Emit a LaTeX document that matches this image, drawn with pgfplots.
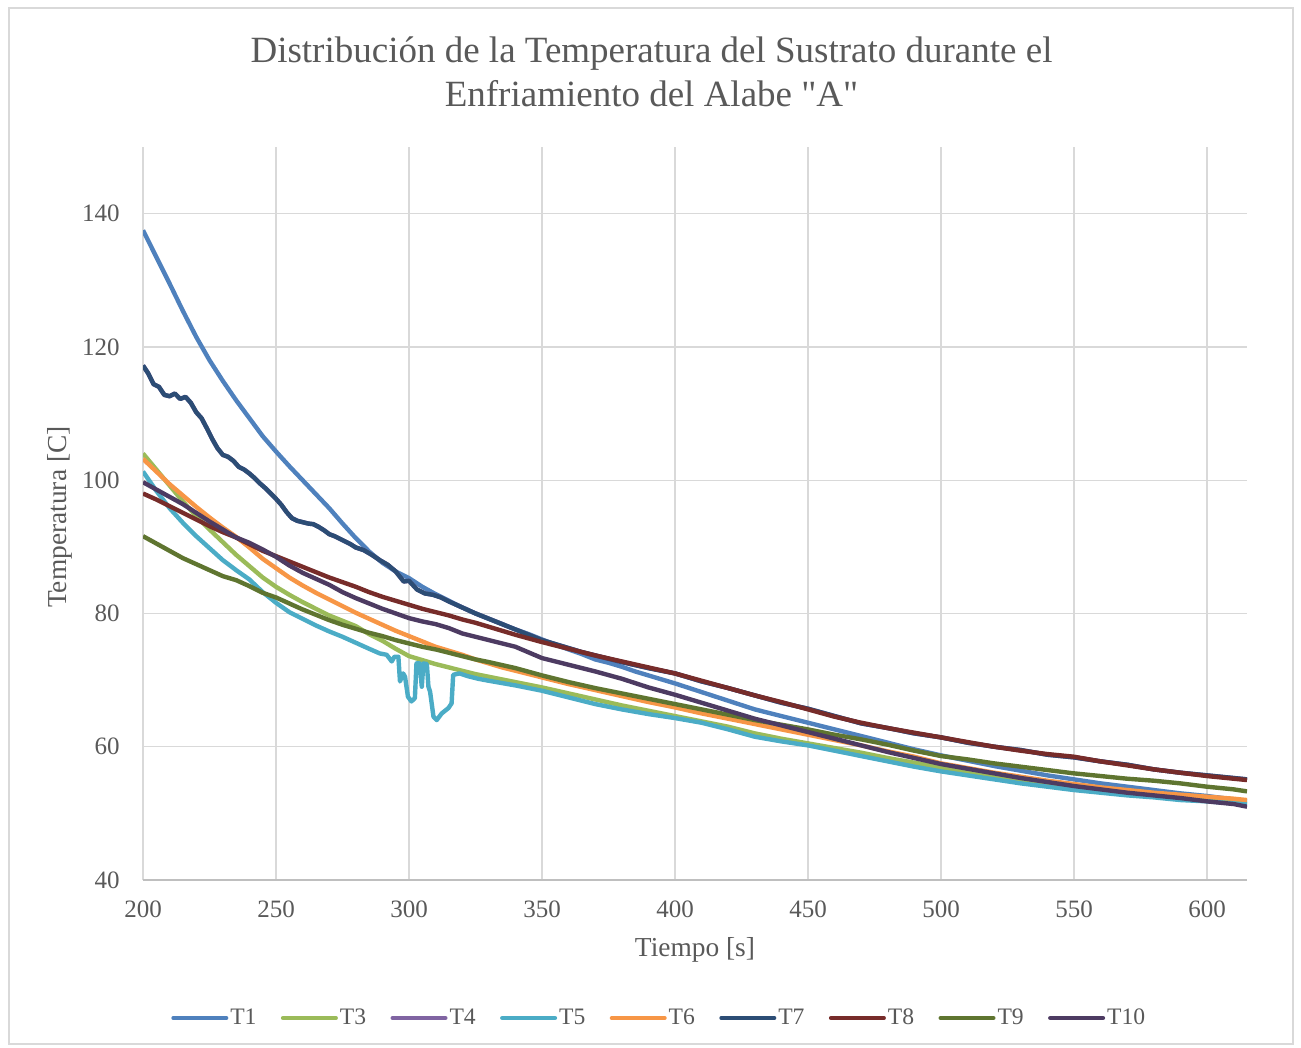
\documentclass[border=0pt]{standalone}
\usepackage{fontspec}
\setmainfont{Liberation Serif}
\newfontfamily\plainquotes{Liberation Serif}[Ligatures=TeXOff]
\usepackage{pgfplots}
\usepackage{pgfplotstable}
\pgfplotsset{compat=1.18}

\definecolor{txt}{HTML}{595959}
\definecolor{gridc}{HTML}{D9D9D9}
\definecolor{axisc}{HTML}{BFBFBF}
\definecolor{cT1}{HTML}{4F81BD}
\definecolor{cT3}{HTML}{9BBB59}
\definecolor{cT4}{HTML}{8064A2}
\definecolor{cT5}{HTML}{4BACC6}
\definecolor{cT6}{HTML}{F79646}
\definecolor{cT7}{HTML}{2C4D75}
\definecolor{cT8}{HTML}{772C2A}
\definecolor{cT9}{HTML}{5F7530}
\definecolor{cT10}{HTML}{4D3B62}

% tiempo [s], temperatura [C]
\pgfplotstableread{
x y
200 137.5
205 133.5
210 129.5
215 125.4
220 121.5
225 118.0
230 114.9
235 112.0
240 109.3
245 106.6
250 104.3
255 102.1
260 100.0
265 97.9
270 95.8
275 93.5
280 91.3
285 89.3
290 87.6
295 86.3
300 85.3
305 84.0
310 82.9
315 81.9
320 80.9
325 80.0
330 79.2
335 78.4
340 77.6
345 76.9
350 76.1
355 75.3
360 74.6
365 73.9
370 73.1
375 72.6
380 72.0
385 71.3
390 70.7
395 70.1
400 69.5
410 68.2
420 66.9
430 65.6
440 64.6
450 63.6
460 62.6
470 61.6
480 60.6
490 59.6
500 58.7
510 57.9
520 57.1
530 56.4
540 55.7
550 55.1
560 54.5
570 54.0
580 53.5
590 53.0
600 52.6
610 52.1
615 51.8
}\tOne

\pgfplotstableread{
x y
200 104.0
205 101.6
210 99.2
215 96.8
220 94.6
225 92.6
230 90.7
235 88.8
240 87.1
245 85.4
250 84.0
255 82.8
260 81.7
265 80.7
270 79.7
275 78.9
280 78.1
285 76.9
290 75.9
295 74.7
300 73.6
305 73.0
310 72.4
315 71.9
320 71.4
325 70.9
330 70.5
340 69.7
350 68.9
360 68.0
370 67.1
380 66.2
390 65.4
400 64.6
410 63.8
420 63.0
430 62.0
440 61.2
450 60.5
460 59.8
470 59.1
480 58.3
490 57.6
500 56.9
510 56.2
520 55.6
530 54.9
540 54.3
550 53.8
560 53.4
570 53.1
580 52.8
590 52.5
600 52.2
610 51.8
615 51.5
}\tThree

\pgfplotstableread{
x y
200 117.2
202 116.0
204 114.4
206 114.0
208 112.8
210 112.6
212 113.0
214 112.2
216 112.5
218 111.6
220 110.2
222 109.3
224 107.8
226 106.2
228 104.8
230 103.8
232 103.5
234 102.9
236 102.0
238 101.6
240 101.0
242 100.3
244 99.5
246 98.8
248 98.0
250 97.2
252 96.3
254 95.2
256 94.3
258 93.9
260 93.7
262 93.5
264 93.4
266 93.0
268 92.5
270 91.9
272 91.6
274 91.2
276 90.8
278 90.4
280 89.9
283 89.5
286 88.8
289 88.0
292 87.3
295 86.3
298 84.8
300 84.9
303 83.6
306 83.0
309 82.8
312 82.4
315 81.8
320 80.9
325 80.0
330 79.2
335 78.4
340 77.6
345 76.8
350 76.0
355 75.4
360 74.8
365 74.2
370 73.7
375 73.2
380 72.7
390 71.8
400 71.0
410 69.8
420 68.8
430 67.7
440 66.6
450 65.7
460 64.6
470 63.5
480 62.8
490 62.0
500 61.4
510 60.6
520 60.0
530 59.5
540 58.8
550 58.4
560 57.8
570 57.3
580 56.6
590 56.1
600 55.7
610 55.3
615 55.1
}\tSeven

\pgfplotstableread{
x y
200 101.3
205 98.4
210 95.8
215 93.6
220 91.6
225 89.8
230 88.0
235 86.5
240 85.1
245 83.2
250 81.6
255 80.2
260 79.2
265 78.2
270 77.3
275 76.5
280 75.6
285 74.7
289 74.0
291.6 73.8
293.5 72.8
294.5 73.5
296 73.5
296.6 69.8
297.8 71.0
298.5 70.5
299.6 67.5
300.9 66.8
302.2 67.3
302.8 72.5
304 72.5
304.8 69.0
305.4 72.5
306.7 72.4
307.3 69.0
307.9 68.3
309.2 64.5
310.4 64.0
312.3 65.0
314.8 65.8
316 66.5
316.6 70.8
319 71.0
322 70.6
326 70.2
330 69.9
340 69.2
350 68.4
360 67.4
370 66.4
380 65.6
390 64.9
400 64.3
410 63.6
420 62.6
430 61.5
440 60.8
450 60.2
460 59.4
470 58.6
480 57.8
490 57.0
500 56.3
510 55.7
520 55.1
530 54.5
540 54.0
550 53.5
560 53.1
570 52.7
580 52.4
590 52.0
600 51.8
610 51.5
615 51.4
}\tFive

\pgfplotstableread{
x y
200 103.2
205 101.3
210 99.4
215 97.7
220 96.0
225 94.4
230 92.9
235 91.5
240 89.9
245 88.2
250 86.8
255 85.4
260 84.2
265 83.1
270 82.1
275 81.1
280 80.1
285 79.2
290 78.3
295 77.4
300 76.6
305 75.8
310 75.0
315 74.4
320 73.8
325 73.1
330 72.5
335 71.9
340 71.4
345 70.9
350 70.4
360 69.4
370 68.5
380 67.6
390 66.7
400 65.9
410 65.0
420 64.2
430 63.4
440 62.6
450 61.8
460 61.0
470 60.2
480 59.3
490 58.5
500 57.5
510 56.8
520 56.1
530 55.5
540 54.9
550 54.4
560 53.9
570 53.5
580 53.1
590 52.8
600 52.5
610 52.2
615 52.0
}\tSix

\pgfplotstableread{
x y
200 98.0
205 97.1
210 96.1
215 95.1
220 94.1
225 93.1
230 92.2
235 91.4
240 90.4
245 89.4
250 88.6
255 87.8
260 87.0
265 86.2
270 85.4
275 84.7
280 84.0
285 83.2
290 82.5
295 81.9
300 81.3
305 80.7
310 80.2
315 79.7
320 79.1
325 78.6
330 78.0
340 76.8
350 75.7
360 74.7
370 73.7
380 72.8
390 71.9
400 71.0
410 69.9
420 68.8
430 67.7
440 66.7
450 65.6
460 64.5
470 63.6
480 62.8
490 62.1
500 61.4
510 60.7
520 60.0
530 59.4
540 58.9
550 58.5
560 57.8
570 57.2
580 56.6
590 56.1
600 55.6
610 55.2
615 55.0
}\tEight

\pgfplotstableread{
x y
200 91.6
205 90.5
210 89.4
215 88.3
220 87.4
225 86.5
230 85.6
235 85.0
240 84.1
245 83.1
250 82.4
255 81.5
260 80.6
265 79.8
270 79.0
275 78.3
280 77.7
285 77.1
290 76.6
295 76.0
300 75.5
305 75.0
310 74.6
315 74.1
320 73.6
325 73.1
330 72.7
340 71.8
350 70.7
360 69.7
370 68.8
380 68.0
390 67.2
400 66.4
410 65.6
420 64.8
430 64.0
440 63.3
450 62.6
460 61.8
470 61.1
480 60.3
490 59.4
500 58.6
510 58.1
520 57.5
530 57.0
540 56.5
550 56.0
560 55.6
570 55.2
580 54.9
590 54.5
600 54.0
610 53.6
615 53.3
}\tNine

\pgfplotstableread{
x y
200 99.7
205 98.6
210 97.5
215 96.4
220 95.1
225 93.8
230 92.6
235 91.4
240 90.6
245 89.6
250 88.5
255 87.2
260 86.1
265 85.2
270 84.3
275 83.2
280 82.3
285 81.5
290 80.7
295 80.0
300 79.3
305 78.8
310 78.4
315 77.8
320 77.0
325 76.5
330 76.0
340 75.0
350 73.3
360 72.3
370 71.3
380 70.2
390 68.9
400 67.8
410 66.6
420 65.4
430 64.2
440 63.2
450 62.2
460 61.2
470 60.2
480 59.2
490 58.3
500 57.4
510 56.7
520 56.0
530 55.3
540 54.7
550 54.1
560 53.6
570 53.1
580 52.7
590 52.3
600 51.8
610 51.4
615 51.0
}\tTen

\begin{document}
\begin{tikzpicture}
\useasboundingbox (0,0) rectangle (650.5pt,-524pt);
\draw[color=black!15, line width=0.6pt] (4.5pt,-4pt) rectangle (646.5pt,-522pt);
\node[anchor=base, text=txt, font=\fontsize{18.5}{22}\selectfont, inner sep=0pt]
  at (325.75pt,-31.5pt) {Distribución de la Temperatura del Sustrato durante el};
\node[anchor=base, text=txt, font=\plainquotes\fontsize{18.5}{22}\selectfont, inner sep=0pt]
  at (325.75pt,-53.5pt) {Enfriamiento del Alabe "A"};
\begin{axis}[
    at={(71.5pt,-440pt)}, anchor=south west,
    scale only axis,
    width=552pt, height=366.5pt,
    xmin=200, xmax=615,
    ymin=40, ymax=150,
    xtick={200,250,...,600},
    ytick={40,60,...,140},
    grid=major,
    grid style={color=gridc, line width=0.65pt},
    separate axis lines,
    axis x line*=bottom,
    axis y line*=left,
    x axis line style={-, color=axisc, line width=0.7pt},
    y axis line style={draw=none},
    major tick length=0pt,
    tick label style={text=txt, font=\fontsize{12.5}{15}\selectfont},
    /pgf/number format/assume math mode=true,
    /pgf/number format/1000 sep={},
    yticklabel style={anchor=east, inner sep=0pt, xshift=-11.5pt},
    xticklabel style={anchor=north, inner sep=0pt, yshift=-10pt},
    xlabel={Tiempo [s]},
    ylabel={Temperatura [C]},
    label style={text=txt, font=\fontsize{13.7}{16}\selectfont},
    x label style={at={(axis description cs:0.5,-0.105)}, anchor=base},
    y label style={at={(axis description cs:-0.0752,0.495)}, anchor=center},
    every axis plot/.append style={line width=2.2pt, line join=round, mark=none},
    legend columns=9,
    legend style={at={(0.4724,-0.1883)}, anchor=center, draw=none, fill=none,
        font=\fontsize{11.8}{14}\selectfont, text=txt,
        column sep=0pt, inner sep=0pt, nodes={inner sep=0pt}},
    legend image code/.code={\draw[#1, line width=2pt, line cap=round] (0pt,0pt) -- (26.5pt,0pt);},
  ]
  \addplot[color=cT1] table {\tOne};
  \addlegendentry{\hspace{1pt}\makebox[25.3pt][l]{T1}}
  \addplot[color=cT3] table {\tThree};
  \addlegendentry{\hspace{1pt}\makebox[25.3pt][l]{T3}}
  \addplot[color=cT4] table {\tSeven};
  \addlegendentry{\hspace{1pt}\makebox[25.3pt][l]{T4}}
  \addplot[color=cT5] table {\tFive};
  \addlegendentry{\hspace{1pt}\makebox[25.3pt][l]{T5}}
  \addplot[color=cT6] table {\tSix};
  \addlegendentry{\hspace{1pt}\makebox[25.3pt][l]{T6}}
  \addplot[color=cT7] table {\tSeven};
  \addlegendentry{\hspace{1pt}\makebox[25.3pt][l]{T7}}
  \addplot[color=cT8] table {\tEight};
  \addlegendentry{\hspace{1pt}\makebox[25.3pt][l]{T8}}
  \addplot[color=cT9] table {\tNine};
  \addlegendentry{\hspace{1pt}\makebox[25.3pt][l]{T9}}
  \addplot[color=cT10] table {\tTen};
  \addlegendentry{\hspace{1pt}\makebox[25.3pt][l]{T10}}
\end{axis}
\end{tikzpicture}
\end{document}
